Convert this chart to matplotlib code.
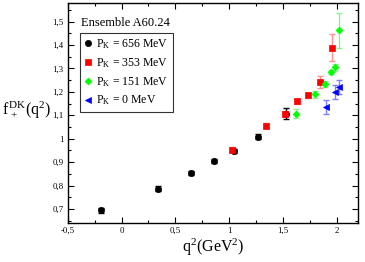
import matplotlib
matplotlib.use("Agg")
import matplotlib.pyplot as plt
from matplotlib.ticker import MultipleLocator, FuncFormatter

plt.rcParams['font.family'] = ['Liberation Serif', 'DejaVu Serif']
plt.rcParams['mathtext.fontset'] = 'stix'

# p_K = 656 MeV
q2_656 = [-0.19, 0.34, 0.648, 0.855, 1.043, 1.265, 1.528]
f_656 = [0.694, 0.787, 0.852, 0.905, 0.947, 1.008, 1.107]
e_656 = [0.010, 0.009, 0.008, 0.008, 0.010, 0.010, 0.023]

# p_K = 353 MeV
q2_353 = [1.027, 1.343, 1.518, 1.632, 1.737, 1.842, 1.953]
f_353 = [0.953, 1.055, 1.107, 1.160, 1.185, 1.242, 1.388]
e_353 = [0.010, 0.010, 0.012, 0.010, 0.012, 0.026, 0.058]

# p_K = 151 MeV
q2_151 = [1.62, 1.80, 1.895, 1.95, 1.987, 2.02]
f_151 = [1.107, 1.190, 1.234, 1.285, 1.306, 1.463]
e_151 = [0.020, 0.015, 0.013, 0.010, 0.015, 0.075]

# p_K = 0 MeV
q2_0 = [1.898, 1.985, 2.018]
f_0 = [1.136, 1.200, 1.221]
e_0 = [0.030, 0.030, 0.031]

labels = ['656', '353', '151', '0']

fig = plt.figure(figsize=(3.65, 2.62), dpi=100)
ax = fig.add_axes([0.186, 0.149, 0.795, 0.84])

series = [
    (q2_656, f_656, e_656, 'o', 'black', 'black'),
    (q2_353, f_353, e_353, 's', 'red', '#ff9090'),
    (q2_151, f_151, e_151, 'D', '#00ff00', '#90f090'),
    (q2_0, f_0, e_0, '<', 'blue', '#8080ff'),
]
handles = []
for (x, y, e, m, c, ec), lab in zip(series, labels):
    ms = 4.5 if m != 'D' else 3.5
    ax.errorbar(x, y, yerr=e, fmt='none', ecolor=ec, elinewidth=1.0,
                capsize=2.5, capthick=1.0, zorder=2)
    h, = ax.plot(x, y, linestyle='none', marker=m, color=c, markersize=ms,
                 markeredgewidth=0.5, zorder=3,
                 label=r'P$_\mathregular{K}$ = ' + lab + ' MeV')
    handles.append(h)

ax.set_xlim(-0.5, 2.2)
ax.set_ylim(0.64, 1.58)
ax.xaxis.set_major_locator(MultipleLocator(0.5))
ax.xaxis.set_minor_locator(MultipleLocator(0.25))
ax.yaxis.set_major_locator(MultipleLocator(0.1))
ax.yaxis.set_minor_locator(MultipleLocator(0.05))

def comma(v, pos):
    s = ('%.1f' % v).rstrip('0').rstrip('.')
    if s == '-0':
        s = '0'
    return s.replace('.', ',')

ax.xaxis.set_major_formatter(FuncFormatter(comma))
ax.yaxis.set_major_formatter(FuncFormatter(comma))
ax.tick_params(which='both', direction='in', top=True, right=True,
               labelsize=6.3, width=0.8, pad=3)
ax.tick_params(which='major', length=4)
ax.tick_params(which='minor', length=2)
for sp in ax.spines.values():
    sp.set_linewidth(1.0)

ax.text(0.045, 0.909, 'Ensemble A60.24', transform=ax.transAxes,
        fontsize=9, ha='left', va='center')
leg = ax.legend(handles=handles, loc='upper left',
                bbox_to_anchor=(0.041, 0.864), fontsize=8.5,
                frameon=True, fancybox=False, edgecolor='black',
                handlelength=0.6, handletextpad=0.4, borderpad=0.4,
                labelspacing=0.45, borderaxespad=0)
leg.get_frame().set_linewidth(0.8)

fig.text(0.005, 0.58, r'$\mathregular{f^{\,DK}_{\,+}(q^2)}$', fontsize=11.5,
         ha='left', va='center')
ax.set_xlabel(r'$\mathregular{q^2(GeV^2)}$', fontsize=11.5, labelpad=1)

fig.savefig('out.png', dpi=100)
